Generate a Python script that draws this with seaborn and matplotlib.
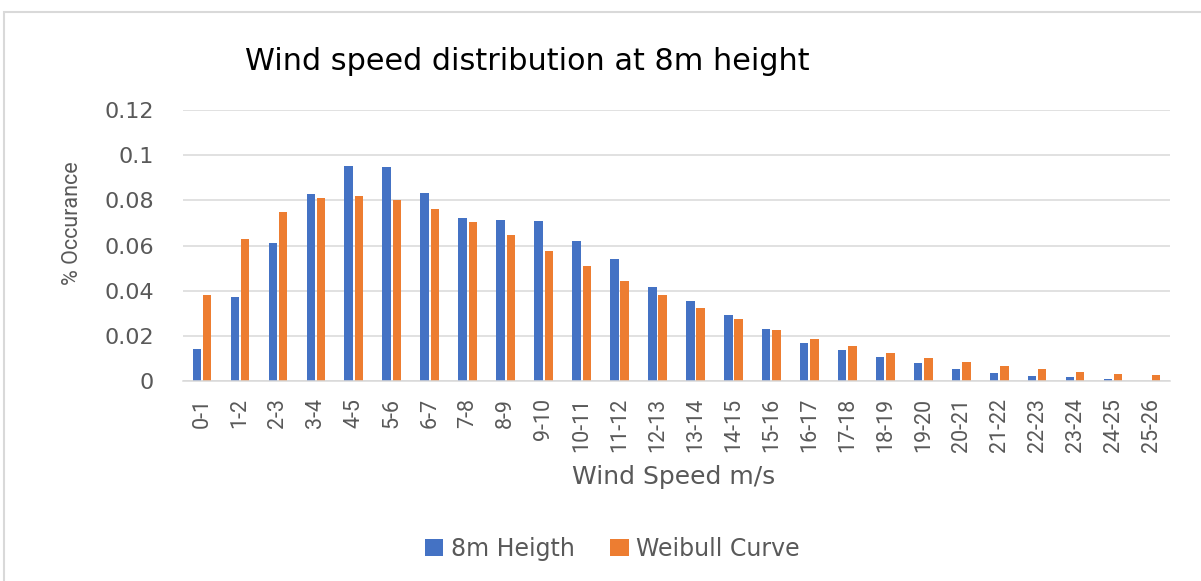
import matplotlib
matplotlib.use("Agg")
import matplotlib.pyplot as plt
import seaborn as sns
import pandas as pd
from matplotlib.patches import Rectangle, Patch
from matplotlib.ticker import FuncFormatter, MultipleLocator

categories = ["0-1", "1-2", "2-3", "3-4", "4-5", "5-6", "6-7", "7-8", "8-9", "9-10",
              "10-11", "11-12", "12-13", "13-14", "14-15", "15-16", "16-17", "17-18",
              "18-19", "19-20", "20-21", "21-22", "22-23", "23-24", "24-25", "25-26"]
height_8m = [0.014, 0.037, 0.061, 0.083, 0.095, 0.0947, 0.0834, 0.0722, 0.0715, 0.071,
             0.0621, 0.0542, 0.0418, 0.0356, 0.0294, 0.0232, 0.017, 0.0137,
             0.0108, 0.0079, 0.0053, 0.0036, 0.0024, 0.0019, 0.001, 0.0]
weibull = [0.038, 0.063, 0.075, 0.081, 0.0817, 0.080, 0.0763, 0.0704, 0.0645, 0.0577,
           0.0509, 0.0441, 0.0379, 0.0323, 0.0273, 0.0226, 0.0188, 0.0155,
           0.0125, 0.0102, 0.0082, 0.0065, 0.0053, 0.0042, 0.0033, 0.0027]
series_names = ["8m Heigth", "Weibull Curve"]
colors = ["#4472C4", "#ED7D31"]

df = pd.DataFrame({
    "speed": categories * 2,
    "value": height_8m + weibull,
    "series": [series_names[0]] * len(categories) + [series_names[1]] * len(categories),
})

sns.set_theme(style="white")
plt.rcParams['font.family'] = ['DejaVu Sans']
GRAY = "#595959"
NARROW = ['Roboto', 'DejaVu Sans']

W, H = 1201, 581
fig = plt.figure(figsize=(W / 100, H / 100), dpi=100)
ax = fig.add_axes([183 / W, (H - 381) / H, (1170 - 183) / W, (381 - 110) / H])

sns.barplot(data=df, x="speed", y="value", hue="series", hue_order=series_names,
            palette=colors, width=0.54, gap=0.18, ax=ax, legend=False,
            linewidth=0, saturation=1)

ax.set_ylim(0, 0.12)
ax.set_xlim(-0.5, len(categories) - 0.5)
ax.yaxis.set_major_locator(MultipleLocator(0.02))
ax.yaxis.set_major_formatter(FuncFormatter(lambda v, p: f"{round(v, 4):g}"))
ax.grid(axis="y", color="#D9D9D9", linewidth=1.1)
ax.set_axisbelow(True)
for s in ["top", "right", "left"]:
    ax.spines[s].set_visible(False)
ax.spines["bottom"].set_color("#D9D9D9")
ax.spines["bottom"].set_linewidth(1.1)
ax.tick_params(axis="both", length=0)
ax.tick_params(axis="y", pad=21, labelsize=16, labelcolor=GRAY)
ax.tick_params(axis="x", pad=12, labelcolor=GRAY)
for lbl in ax.get_xticklabels():
    lbl.set_rotation(90)
    lbl.set_family(NARROW)
    lbl.set_fontsize(15.5)
    lbl.set_va("top")
    lbl.set_ha("center")
ax.set_xlabel("")
ax.set_ylabel("")

fig.text(245 / W, (H - 62) / H, "Wind speed distribution at 8m height",
         fontsize=21.8, color="black", ha="left", va="center")
fig.text(674 / W, (H - 477) / H, "Wind Speed m/s", fontsize=18,
         color=GRAY, ha="center", va="center")
fig.text(72 / W, (H - 223) / H, "% Occurance", fontsize=15.5, family=NARROW,
         color=GRAY, ha="center", va="center", rotation=90)

handles = [Patch(facecolor=c, edgecolor="none") for c in colors]
leg = fig.legend(handles, series_names, loc="center",
                 bbox_to_anchor=(612 / W, (H - 549) / H), ncol=2, frameon=False,
                 fontsize=17, handlelength=0.8, handleheight=0.7,
                 handletextpad=0.3, columnspacing=1.5)
for t in leg.get_texts():
    t.set_color(GRAY)

fig.add_artist(Rectangle((4 / W, -0.05), 1.2, (H - 12) / H + 0.05,
                         transform=fig.transFigure, fill=False,
                         edgecolor="#D9D9D9", linewidth=1.5))

fig.savefig("out.png", dpi=100)
